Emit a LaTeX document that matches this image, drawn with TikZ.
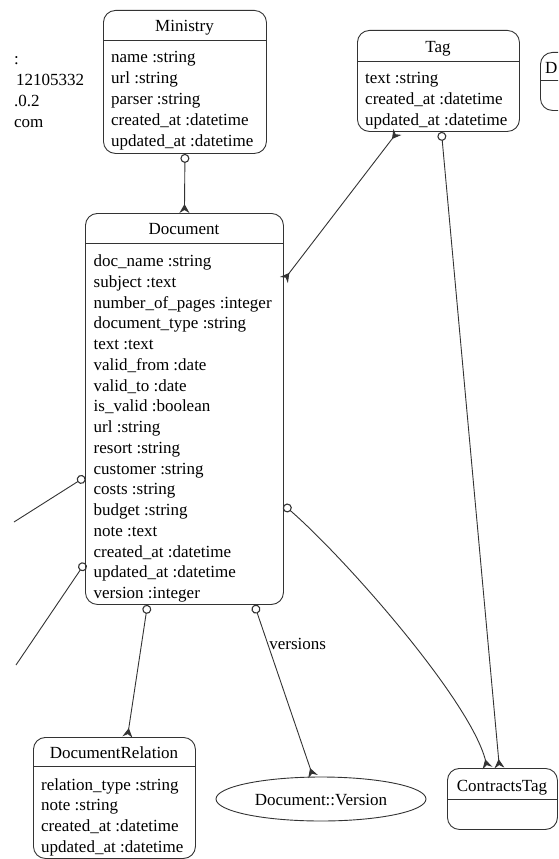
\documentclass[tikz,border=0pt]{standalone}
\usepackage{fontspec}
\setmainfont{Liberation Serif}
\usetikzlibrary{arrows.meta,shapes.geometric,calc}
\tikzset{
  entity/.style={draw=black!80, line width=0.9pt, rounded corners=12pt, inner sep=0pt, anchor=north west},
  lbl/.style={inner sep=0pt, font=\fontsize{17}{20.75}\selectfont},
  link/.style={draw=black!80, line width=0.9pt},
  odot/.tip={Circle[open,length=9pt,width=9pt,line width=1.1pt]},
  crow/.tip={Stealth[reversed,length=9pt,width=10pt,inset=3pt]},
}
\begin{document}
\begin{tikzpicture}[x=1pt,y=-1pt]
\useasboundingbox (0,0) rectangle (558,859);
\clip (0,0) rectangle (558,859);

% left fragments (clipped node)
\node[lbl, anchor=base west] (fa) at (14,65) {:};
\node[lbl, anchor=base west] (fb) at (16,85.75) {12105332};
\node[lbl, anchor=base west] (fc) at (14,106.5) {.0.2};
\node[lbl, anchor=base west] (fd) at (14,127.25) {com};

% Ministry
\node[entity, minimum width=163, minimum height=143] (ministry) at (103,10) {};
\draw[link] ([yshift=-30pt]ministry.north west) -- ([yshift=-30pt]ministry.north east);
\node[lbl, anchor=base] (ministry-t) at (184.5,31.5) {Ministry};
\foreach[count=\i] \t in {name :string, url :string, parser :string, created\_at :datetime, updated\_at :datetime}
  \node[lbl, anchor=base west] (ministry-a\i) at (111,{63+(\i-1)*20.75}) {\t};

% Tag
\node[entity, minimum width=162, minimum height=101] (tag) at (357,30) {};
\draw[link] ([yshift=-31pt]tag.north west) -- ([yshift=-31pt]tag.north east);
\node[lbl, anchor=base] (tag-t) at (438,52.5) {Tag};
\foreach[count=\i] \t in {text :string, created\_at :datetime, updated\_at :datetime}
  \node[lbl, anchor=base west] (tag-a\i) at (365,{83.5+(\i-1)*20.75}) {\t};

% partial box at right edge
\node[entity, minimum width=80, minimum height=58] (dbox) at (540,52) {};
\draw[link] ([yshift=-28pt]dbox.north west) -- ([yshift=-28pt]dbox.north east);
\node[lbl, anchor=base west] (dbox-t) at (545,73.5) {D};

% Document
\node[entity, minimum width=198, minimum height=391] (doc) at (85,213) {};
\draw[link] ([yshift=-30pt]doc.north west) -- ([yshift=-30pt]doc.north east);
\node[lbl, anchor=base] (doc-t) at (184,234.5) {Document};
\foreach[count=\i] \t in {doc\_name :string, subject :text, number\_of\_pages :integer, document\_type :string, text :text, valid\_from :date, valid\_to :date, is\_valid :boolean, url :string, resort :string, customer :string, costs :string, budget :string, note :text, created\_at :datetime, updated\_at :datetime, version :integer}
  \node[lbl, anchor=base west] (doc-a\i) at (93.5,{266.5+(\i-1)*20.75}) {\t};

% DocumentRelation
\node[entity, minimum width=162, minimum height=121] (docrel) at (33,737) {};
\draw[link] ([yshift=-29pt]docrel.north west) -- ([yshift=-29pt]docrel.north east);
\node[lbl, anchor=base] (docrel-t) at (114,758.5) {DocumentRelation};
\foreach[count=\i] \t in {relation\_type :string, note :string, created\_at :datetime, updated\_at :datetime}
  \node[lbl, anchor=base west] (docrel-a\i) at (41,{790+(\i-1)*20.75}) {\t};

% Document::Version
\node[draw=black!80, line width=0.9pt, ellipse, minimum width=210, minimum height=44, inner sep=0pt] (ver) at (321,799) {};
\node[lbl] (ver-t) at (321,800) {Document::Version};

% ContractsTag
\node[entity, minimum width=110, minimum height=61] (ct) at (447,768) {};
\draw[link] ([yshift=-31pt]ct.north west) -- ([yshift=-31pt]ct.north east);
\node[lbl, anchor=base] (ct-t) at (502,791.5) {ContractsTag};

% free ends at the left edge
\coordinate (lefta) at (14,522);
\coordinate (leftb) at (16,665);

% connectors
\draw[link, odot-crow] (ministry.south) -- (doc.north);
\draw[link, crow-crow] ([xshift=-41pt]tag.south) -- ([yshift=-67pt]doc.north east);
\draw[link, odot-crow] ([xshift=3pt]tag.south) -- ([xshift=-3pt]ct.north);
\draw[link, odot-crow] ([yshift=-292pt]doc.north east) .. controls (345,558) and (470,700) .. ([xshift=-15pt]ct.north);
\draw[link, odot-crow] ([xshift=-37pt]doc.south) -- ([xshift=13pt]docrel.north);
\draw[link, odot-crow] ([xshift=70pt]doc.south) -- node[lbl, pos=0.23, anchor=west, xshift=1pt] (verlabel) {versions} ([xshift=-8pt]ver.north);
\draw[link, odot-] ([yshift=-264pt]doc.north west) -- (lefta);
\draw[link, odot-] ([yshift=-350pt]doc.north west) -- (leftb);
\end{tikzpicture}
\end{document}
